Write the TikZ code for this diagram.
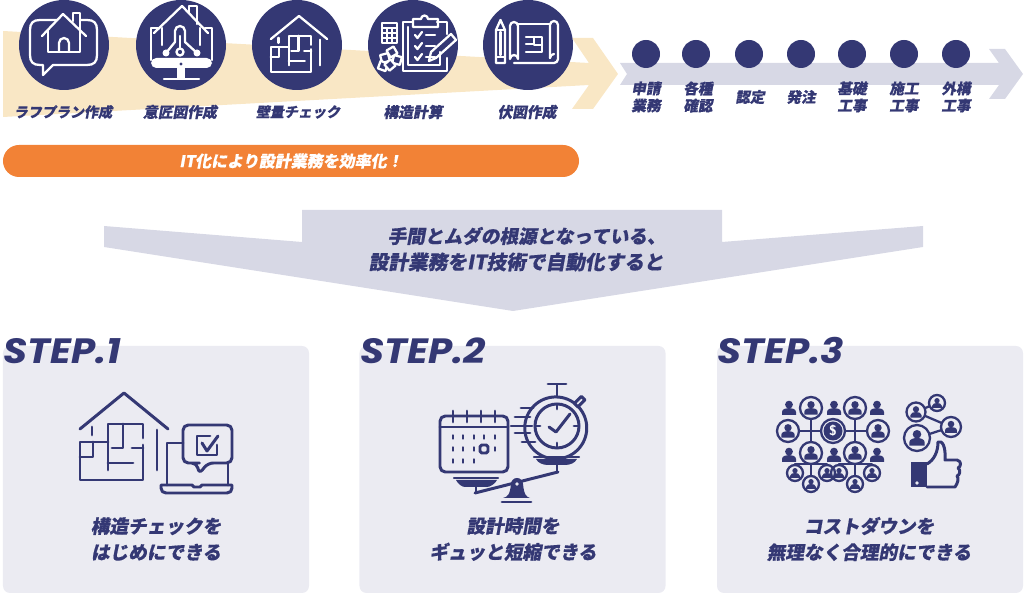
\documentclass[tikz,border=0pt]{standalone}
\usepackage{fontspec}
\newfontfamily\cjk[FakeSlant=0.18,FakeBold=0.5]{Noto Sans CJK JP}
\newfontfamily\stepfont[FakeStretch=1.1]{Poppins}
\usetikzlibrary{positioning}
\definecolor{navy}{HTML}{343874}
\definecolor{beige}{HTML}{F9E7C5}
\definecolor{lavender}{HTML}{D7D8E5}
\definecolor{panelgray}{HTML}{EBEBF2}
\definecolor{barorange}{HTML}{F28236}
\tikzset{
	floorhouse/.pic={
		\draw[pic actions] (-44,36) -- (0,0) -- (44,36);
		\draw[pic actions] (33,37) -- (33,77);
		\draw[pic actions] (-32,34) -- (-32,42);
		\draw[pic actions] (19,45) -- (19,31) -- (-16,31) -- (-16,77);
		\draw[pic actions] (19,52) -- (19,87) -- (-44,87) -- (-44,49) -- (-16,49);
		\draw[pic actions] (-16,70) -- (9,70);
		\draw[pic actions] (-1,31) -- (-1,55) -- (-12,55);
		\draw[pic actions] (8,55) -- (19,55);
		\draw[pic actions] (-44,64) -- (-31,64) -- (-31,49);
	},
	person/.pic={
		\fill[navy] (0,-3.4) circle (3.9);
		\fill[navy] (-7,7) -- (-7,4) .. controls (-7,1) and (-3,0) .. (0,0) .. controls (3,0) and (7,1) .. (7,4) -- (7,7) -- cycle;
	}
}
\begin{document}
\begin{tikzpicture}[x=0.2mm,y=-0.2mm]
	\tikzstyle{Disc} = [circle, minimum size=1.8cm, inner sep=0pt, fill=navy]
	\tikzstyle{Dot} = [circle, minimum size=0.56cm, inner sep=0pt, fill=navy]
	\tikzstyle{Caption} = [inner sep=0pt, text=navy, font=\cjk\bfseries\fontsize{8}{10}\selectfont]
	\tikzstyle{Kanji} = [Caption, font=\cjk\bfseries\fontsize{8.4}{10}\selectfont]
	\tikzstyle{Stage} = [inner sep=0pt, align=center, text=navy, font=\cjk\bfseries\fontsize{8.3}{9.7}\selectfont]
	\tikzstyle{Bar} = [rectangle, minimum width=11.52cm, minimum height=0.64cm, rounded corners=0.32cm, fill=barorange, text=white, font=\cjk\bfseries\fontsize{9.1}{10}\selectfont]
	\tikzstyle{Panel} = [rectangle, minimum width=6.12cm, minimum height=4.94cm, rounded corners=0.14cm, fill=panelgray]
	\tikzstyle{Steptitle} = [inner sep=0pt, anchor=west, text=navy, font=\stepfont\bfseries\itshape\fontsize{20}{20}\selectfont]
	\tikzstyle{Result} = [inner sep=0pt, align=center, text=navy, font=\cjk\bfseries\fontsize{10.6}{14.8}\selectfont]
	\tikzstyle{Why} = [inner sep=0pt, text=navy, anchor=east]
	\tikzstyle{white line} = [draw=white, line width=1.3pt, line cap=round, line join=round]
	\tikzstyle{navy line} = [draw=navy, line width=1.7pt, line cap=round, line join=round]
	\tikzstyle{thin navy} = [draw=navy, line width=1.3pt, line cap=round, line join=round]
	\useasboundingbox (0,0) rectangle (1024,593);

	% band arrows
	\fill[beige] (3,31) -- (589,63) -- (572,38) -- (593,38) -- (618,74) -- (593,109) -- (572,109) -- (589,85) -- (3,117) -- cycle;
	\fill[lavender] (620,63) -- (999,63) -- (989,49) -- (1005,49) -- (1023,74) -- (1005,99) -- (989,99) -- (999,85) -- (620,85) -- (627,74) -- cycle;
	\fill[lavender] (302,210) -- (722,210) -- (722,242) -- (923,226) -- (923,247) -- (513,311) -- (104,247) -- (104,226) -- (302,242) -- cycle;

	\node (rough) [Disc] at (64,45) {};
	\node (design) [Disc] at (181,45) {};
	\node (wall) [Disc] at (297,45) {};
	\node (calc) [Disc] at (413,45) {};
	\node (plan) [Disc] at (528,45) {};
	\node (roughtxt) [Caption] at (63,112) {ラフプラン作成};
	\node (designtxt) [Kanji] at (180,112) {意匠図作成};
	\node (walltxt) [Caption] at (298,112) {壁量チェック};
	\node (calctxt) [Kanji] at (413,112) {構造計算};
	\node (plantxt) [Kanji] at (527,112) {伏図作成};
	\node (bar) [Bar] at (291,161) {IT化により設計業務を効率化！};

	\foreach \name/\x in {a/646,b/696,c/749,d/801,e/852,f/904,g/956}
		\node (dot\name) [Dot] at (\x,54) {};
	\node (st1) [Stage] at (646,97) {申請\\業務};
	\node (st2) [Stage] at (698,97) {各種\\確認};
	\node (st3) [Stage] at (750,97) {認定};
	\node (st4) [Stage] at (801,97) {発注};
	\node (st5) [Stage] at (852,97) {基礎\\工事};
	\node (st6) [Stage] at (904,97) {施工\\工事};
	\node (st7) [Stage] at (956,97) {外構\\工事};

	\node (why1) [Why, font=\cjk\bfseries\fontsize{10.6}{12}\selectfont] at (666,236) {手間とムダの根源となっている、};
	\node (why2) [Why, font=\cjk\bfseries\fontsize{11.2}{12}\selectfont] at (664,262) {設計業務をIT技術で自動化すると};

	% icon rough plan
	\draw[white line] (57,20) -- (40,20) .. controls (33,20) and (30,23) .. (30,30) -- (30,55) .. controls (30,62) and (33,65) .. (40,65) -- (43,65) -- (43,75) -- (53,65) -- (87,65) .. controls (94,65) and (97,62) .. (97,55) -- (97,30) .. controls (97,23) and (94,20) .. (87,20) -- (81,20);
	\draw[white line] (42,36) -- (63,14) -- (86,36);
	\draw[white line] (48,30) -- (48,52) -- (80,52) -- (80,28);
	\draw[white line] (73,21) -- (73,13) -- (80,13) -- (80,28);
	\draw[white line] (59,52) -- (59,43) arc (180:360:5) -- (69,52);

	% icon design drawing
	\fill[white, rounded corners=3pt] (151,58) rectangle (212,68);
	\draw[white line] (151,60) -- (151,28) -- (158,28);
	\draw[white line] (205,28) -- (212,28) -- (212,60);
	\fill[white] (177,68) rectangle (185,78);
	\draw[white line] (164,79) -- (199,79);
	\fill[navy] (181,64) circle (1.6);
	\draw[white line] (154,33) -- (182,6) -- (208,33);
	\draw[white line] (189,13) -- (189,6) -- (197,6) -- (197,24);
	\draw[white line] (162,28) -- (162,45);
	\draw[white line] (200,28) -- (200,45);
	\draw[white line] (175,42) -- (175,31) arc (180:360:5) -- (185,42);
	\draw[white line] (175,42) -- (166,53);
	\draw[white line] (185,42) -- (197,53);
	\draw[white line] (180,36) -- (180,48);
	\fill[white] (166,53) circle (3.5) (197,53) circle (3.5);
	\draw[white line] (180,52) circle (3.5);

	% icon wall check
	\pic[white line, scale=.64] at (299,16) {floorhouse};

	% icon structure calculation
	\draw[white line] (413,22) -- (403,22) -- (403,71) -- (447,71) -- (447,58);
	\draw[white line] (437,22) -- (447,22) -- (447,34);
	\draw[white line] (408,27) -- (408,65) -- (440,65) -- (440,52);
	\draw[white line] (413,27) -- (413,19) -- (421,19) arc (180:360:3.5) -- (438,19) -- (438,27) -- cycle;
	\foreach \y in {35,46,57} {
		\draw[white line] (415,\y) -- (417.5,\y+3) -- (422,\y-3);
		\draw[white line] (426,\y) -- (435,\y);
	}
	\draw[white line] (429,61) -- (431,52) -- (451,34) -- (456,40) -- (436,58) -- cycle;
	\draw[white line] (382,23) rectangle (397,43);
	\foreach \y in {28,33,38}
		\draw[white line, line width=.8pt] (382,\y) -- (397,\y);
	\foreach \x in {387,392}
		\draw[white line, line width=.8pt] (\x,28) -- (\x,43);
	\foreach \x/\y/\a in {385/58/15,397/60/-15,392/52/30,383/66/-20,390/65/40}
		\draw[white line, fill=navy, rotate around={\a:(\x,\y)}] (\x-4,\y-4) rectangle (\x+4,\y+4);

	% icon framing plan
	\draw[white line] (496,63) -- (496,30) -- (500.5,20) -- (505,30) -- (505,63) -- cycle;
	\draw[white line] (496,30) -- (505,30);
	\draw[white line] (496,57) -- (505,57);
	\draw[white line] (500.5,32) -- (500.5,55);
	\draw[white line] (510,59) -- (510,26) arc (180:360:4) -- (518,59) arc (0:-180:4);
	\draw[white line] (550,58) -- (550,25) arc (180:360:4) -- (558,59) arc (0:90:4) -- (514,63);
	\draw[white line] (518,24) -- (550,24);
	\draw[white line] (550,58) arc (180:270:4);
	\draw[white line] (526,37) -- (542,37) -- (542,52) -- (526,52);
	\draw[white line] (534,37) -- (534,45) -- (542,45);
	\draw[white line] (526,44) -- (534,44);

	\node (panel1) [Panel] at (156,469.5) {};
	\node (panel2) [Panel] at (512.5,469.5) {};
	\node (panel3) [Panel] at (870,469.5) {};
	\node (step1) [Steptitle] at (3,351) {STEP.1};
	\node (step2) [Steptitle] at (360,351) {STEP.2};
	\node (step3) [Steptitle] at (717,351) {STEP.3};
	\node (res1) [Result] at (156,539) {構造チェックを\\はじめにできる};
	\node (res2) [Result] at (513,539) {設計時間を\\ギュッと短縮できる};
	\node (res3) [Result] at (869,539) {コストダウンを\\無理なく合理的にできる};

	% step 1 icon
	\pic[navy line] at (124,393) {floorhouse};
	\draw[navy line] (183,443) -- (167,443) -- (167,485);
	\draw[navy line] (228,464) -- (228,485);
	\draw[navy line] (161,485) -- (192,485) -- (194,487) -- (200,487) -- (202,485) -- (232,485) -- (232,488) .. controls (232,491) and (230,493) .. (227,493) -- (166,493) .. controls (163,493) and (161,491) .. (161,488) -- cycle;
	\draw[navy line, rounded corners=3pt] (194,463) -- (183,463) -- (183,425) -- (232,425) -- (232,463) -- (208,463) -- (199,474) -- (197,463) -- cycle;
	\draw[navy line] (210,436) -- (197,436) -- (197,455) -- (217,455) -- (217,445);
	\draw[navy line] (202,443) -- (207,451) -- (218,436);

	% step 2 icon
	\draw[navy line, rounded corners=3pt] (440,416) rectangle (508,472);
	\draw[navy line] (440,427) -- (508,427);
	\foreach \x in {453,467,481,495}
		\draw[navy line] (\x,411) -- (\x,422);
	\foreach \x in {453,463,474,484,495}
		\draw[navy line] (\x,435.5) -- (\x,438.5);
	\foreach \x in {453,463,474,495}
		\draw[navy line] (\x,447.5) -- (\x,450.5);
	\foreach \x in {453,463,474}
		\draw[navy line] (\x,459.5) -- (\x,462.5);
	\draw[navy line, rounded corners=1pt] (480,445) rectangle (488,453);
	\draw[navy line] (557,426) circle (22);
	\draw[navy line] (532,408) arc (220:-140:31);
	\draw[navy line] (557,385) -- (557,397);
	\draw[navy line] (548,384) -- (566,384);
	\draw[navy line, fill=panelgray, rotate around={45:(580,402)}] (575,399) rectangle (585,404);
	\draw[navy line] (557,404) -- (557,409) (557,443) -- (557,448) (535,426) -- (540,426) (574,426) -- (579,426);
	\draw[navy line] (549,427) -- (556,432) -- (570,414);
	\draw[navy line] (521,408) -- (533,408);
	\draw[navy line] (515,417) -- (530,417);
	\draw[navy line] (511,426) -- (532,426);
	\draw[navy line] (515,433) -- (530,433);
	\draw[navy line] (522,442) -- (535,442);
	\draw[thin navy] (534,457) -- (579,457);
	\fill[navy] (536,459) -- (577,459) .. controls (575,463) and (570,465) .. (565,465) -- (548,465) .. controls (543,465) and (538,463) .. (536,459) -- cycle;
	\draw[thin navy] (557,465) -- (557,472);
	\draw[navy line] (475,493) -- (558,472);
	\draw[thin navy] (454,478) -- (498,478);
	\fill[navy] (456,480) -- (497,480) .. controls (495,484) and (490,487) .. (487,487) -- (465,487) .. controls (462,487) and (458,484) .. (456,480) -- cycle;
	\draw[thin navy] (476,487) -- (476,493);
	\fill[navy] (503,498) .. controls (508,497) and (510,494) .. (511,484) arc (180:360:6) .. controls (524,494) and (526,497) .. (530,498) -- cycle;
	\fill[panelgray] (517,484) circle (1.8);
	\draw[navy line] (502,502) -- (531,502);

	% step 3 icon
	\foreach \x/\y in {789/408,834/408,877/408,789/455,834/455,877/455}
		\pic at (\x,\y) {person};
	\foreach \x/\y in {811/408,855/408,788/431,878/431,811/453,855/453} {
		\draw[thin navy] (\x,\y) circle (11);
		\pic[scale=.95] at (\x,\y) {person};
	}
	\foreach \x/\y in {795/473,811/484,827/473,839/473,855/484,872/473} {
		\draw[thin navy] (\x,\y) circle (8);
		\pic[scale=.68] at (\x,\y) {person};
	}
	\draw[thin navy] (799,431) -- (821,431) (811,419) -- (811,442);
	\draw[thin navy] (845,431) -- (867,431) (855,419) -- (855,442);
	\draw[thin navy] (811,464) -- (811,476) (795,465) -- (795,464) -- (827,464) -- (827,465);
	\draw[thin navy] (855,464) -- (855,476) (839,465) -- (839,464) -- (872,464) -- (872,465);
	\draw[thin navy] (833,431) circle (12);
	\node (dollar) [circle, minimum size=0.38cm, inner sep=0pt, fill=navy, text=white, font=\sffamily\bfseries\fontsize{8}{8}\selectfont] at (833,431) {\$};
	\draw[thin navy] (916,412) -- (937,403) (916,412) -- (951,427) (917,438) -- (951,427);
	\foreach \x/\y/\r/\s in {937/403/8/.68,916/412/9.5/.8,951/427/10/.85,917/438/13/1.1} {
		\draw[thin navy, fill=panelgray] (\x,\y) circle (\r);
		\pic[scale=\s] at (\x,\y) {person};
	}
	\fill[navy] (911,462) rectangle (927,487);
	\fill[panelgray] (917,483) circle (1.8);
	\draw[navy line] (927,464) .. controls (934,460) and (938,452) .. (938,442) .. controls (942,440) and (946,446) .. (945,460) -- (957,460) .. controls (962,461) and (961,467) .. (958,468) .. controls (961,470) and (960,475) .. (957,476) .. controls (959,478) and (958,483) .. (955,487) -- (927,487);
\end{tikzpicture}
\end{document}
